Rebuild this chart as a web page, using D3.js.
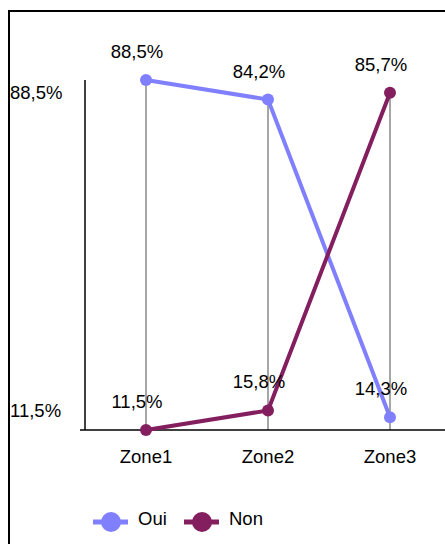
<!DOCTYPE html>
<html>
<head>
<meta charset="utf-8">
<script src="https://cdn.jsdelivr.net/npm/d3@7"></script>
<style>
  body { margin: 0; background: #fff; }
  text { font-family: Arial, "Liberation Sans", sans-serif; }
</style>
</head>
<body>
<script>
// data
var zones = ["Zone1", "Zone2", "Zone3"];
var oui = [88.5, 84.2, 14.3];
var non = [11.5, 15.8, 85.7];
var yTicks = [11.5, 88.5];
var seriesNames = ["Oui", "Non"];
var colors = ["#8080ff", "#841f5f"];

function fmt(v) {
  return v.toFixed(1).replace(".", ",") + "%";
}

var width = 445, height = 544;
var fs = 18.5;

var svg = d3.select("body").append("svg")
  .attr("width", width)
  .attr("height", height);

// frame
svg.append("rect")
  .attr("x", 9).attr("y", 11)
  .attr("width", 460).attr("height", 560)
  .attr("fill", "none")
  .attr("stroke", "#000")
  .attr("stroke-width", 2);

var x = d3.scaleBand().domain(zones).range([85, 451]);
var y = d3.scaleLinear().domain([11.5, 88.5]).range([430, 80]);

function cx(d) { return x(d) + x.bandwidth() / 2; }

// drop lines from the highest point down to the axis
svg.selectAll(".drop")
  .data(zones)
  .enter().append("line")
  .attr("class", "drop")
  .attr("x1", cx).attr("x2", cx)
  .attr("y1", function(d, i) { return y(Math.max(oui[i], non[i])); })
  .attr("y2", y(11.5))
  .attr("stroke", "#888")
  .attr("stroke-width", 1.5);

// y axis
svg.append("line")
  .attr("x1", 85).attr("x2", 85)
  .attr("y1", y(88.5)).attr("y2", y(11.5))
  .attr("stroke", "#000").attr("stroke-width", 1.5);

// x axis
svg.append("line")
  .attr("x1", 80).attr("x2", width)
  .attr("y1", y(11.5)).attr("y2", y(11.5))
  .attr("stroke", "#000").attr("stroke-width", 1.5);

// y tick labels (shifted inwards like the original)
svg.selectAll(".ytick")
  .data(yTicks)
  .enter().append("text")
  .attr("class", "ytick")
  .attr("x", 10)
  .attr("y", function(d) { return y(d) + (d > 50 ? 18.5 : -13.5); })
  .attr("font-size", fs)
  .text(fmt);

// x tick labels
svg.selectAll(".xtick")
  .data(zones)
  .enter().append("text")
  .attr("class", "xtick")
  .attr("x", cx)
  .attr("y", 462.5)
  .attr("text-anchor", "middle")
  .attr("font-size", fs)
  .text(function(d) { return d; });

var series = [oui, non];
var line = d3.line()
  .x(function(d, i) { return cx(zones[i]); })
  .y(function(d) { return y(d); });

series.forEach(function(s, k) {
  svg.append("path")
    .datum(s)
    .attr("d", line)
    .attr("fill", "none")
    .attr("stroke", colors[k])
    .attr("stroke-width", 4);

  svg.selectAll(".pt" + k)
    .data(s)
    .enter().append("circle")
    .attr("cx", function(d, i) { return cx(zones[i]); })
    .attr("cy", function(d) { return y(d); })
    .attr("r", 6)
    .attr("fill", colors[k]);

  svg.selectAll(".lbl" + k)
    .data(s)
    .enter().append("text")
    .attr("x", function(d, i) { return cx(zones[i]) - 9; })
    .attr("y", function(d) { return y(d) - 22; })
    .attr("text-anchor", "middle")
    .attr("font-size", fs)
    .text(fmt);
});

// legend
var legX = [93, 184];
seriesNames.forEach(function(n, k) {
  var g = svg.append("g").attr("transform", "translate(" + legX[k] + ",522)");
  g.append("line")
    .attr("x1", 0).attr("x2", 35)
    .attr("stroke", colors[k]).attr("stroke-width", 5);
  g.append("circle")
    .attr("cx", 18).attr("r", 10)
    .attr("fill", colors[k]);
  g.append("text")
    .attr("x", 45).attr("y", 2.5)
    .attr("font-size", fs)
    .text(n);
});
</script>
</body>
</html>
